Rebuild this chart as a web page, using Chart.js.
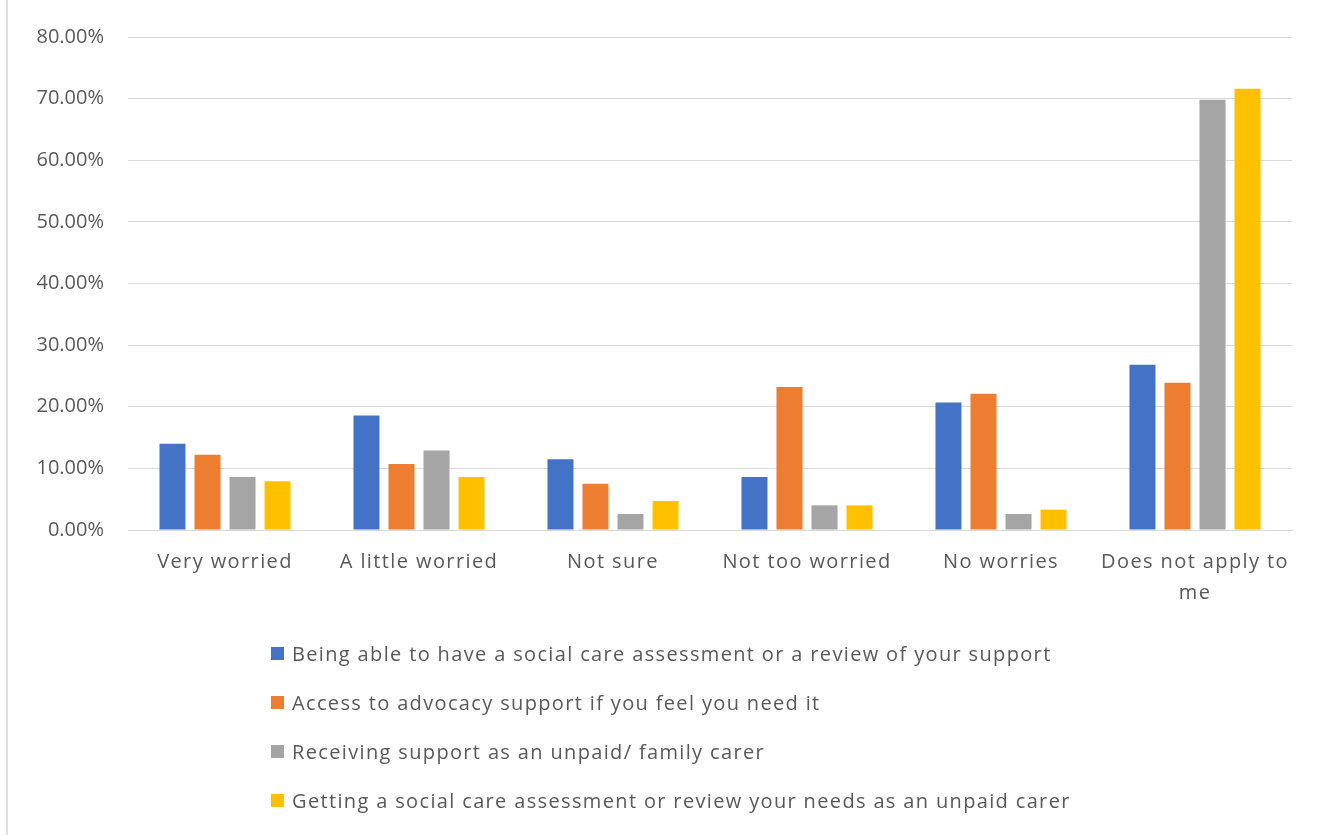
<!DOCTYPE html>
<html>
<head>
<meta charset="utf-8">
<title>Social care worries</title>
<script src="https://cdn.jsdelivr.net/npm/chart.js@4/dist/chart.umd.min.js"></script>
<style>
    html, body {
        margin: 0;
        padding: 0;
        background: #fff;
    }
    #wrap {
        position: relative;
        width: 1320px;
        height: 835px;
        overflow: hidden;
    }
    #edge {
        position: absolute;
        left: 6px;
        top: 0;
        width: 2px;
        height: 835px;
        background: #e0e0e0;
    }
    #legend {
        position: absolute;
        left: 271px;
        top: 629px;
        font-family: "Open Sans", sans-serif;
        font-size: 20px;
        letter-spacing: 1.35px;
        color: #595959;
    }
    #legend .item {
        height: 49px;
        display: flex;
        align-items: center;
    }
    #legend .box {
        width: 13px;
        height: 13px;
        margin-right: 8px;
        flex: none;
    }
</style>
</head>
<body>
<div id="wrap">
    <canvas id="worryChart" width="1320" height="835"></canvas>
    <div id="edge"></div>
    <div id="legend"></div>
</div>
<script>
const categories = [
    'Very worried',
    'A little worried',
    'Not sure',
    'Not too worried',
    'No worries',
    ['Does not apply to', 'me'],
];

const seriesNames = [
    'Being able to have a social care assessment or a review of your support',
    'Access to advocacy support if you feel you need it',
    'Receiving support as an unpaid/ family carer',
    'Getting a social care assessment or review your needs as an unpaid carer',
];

// percent of respondents
const assessmentReview = [14.0, 18.6, 11.5, 8.6, 20.7, 26.8];
const advocacySupport = [12.2, 10.7, 7.5, 23.2, 22.1, 23.9];
const carerSupport = [8.6, 12.9, 2.6, 4.0, 2.6, 69.8];
const carerAssessment = [7.9, 8.6, 4.7, 4.0, 3.3, 71.6];

const yTicks = [0, 10, 20, 30, 40, 50, 60, 70, 80];

const colors = ['#4472C4', '#ED7D31', '#A5A5A5', '#FFC000'];
const textColor = '#595959';
const gridColor = '#d9d9d9';

const seriesValues = [assessmentReview, advocacySupport, carerSupport, carerAssessment];

const ctx = document.getElementById('worryChart');
const chart = new Chart(ctx, {
    type: 'bar',
    data: {
        labels: categories,
        datasets: seriesValues.map((values, i) => ({
            label: seriesNames[i],
            data: values,
            backgroundColor: colors[i],
            categoryPercentage: 0.722,
            barPercentage: 0.743,
        })),
    },
    options: {
        responsive: false,
        animation: false,
        devicePixelRatio: 1,
        layout: {
            padding: { top: 37, right: 28, bottom: 0, left: 0 },
        },
        plugins: {
            legend: { display: false },
            tooltip: { enabled: false },
        },
        scales: {
            x: {
                grid: { display: false, drawTicks: false },
                border: { color: gridColor, width: 1 },
                ticks: {
                    color: textColor,
                    padding: 17,
                    maxRotation: 0,
                    autoSkip: false,
                    font: { family: 'Open Sans', size: 20, lineHeight: 1.55 },
                },
                afterFit: (scale) => {
                    scale.height = 305;
                },
            },
            y: {
                min: 0,
                max: 80,
                afterBuildTicks: (scale) => {
                    scale.ticks = yTicks.map((v) => ({ value: v }));
                },
                grid: { color: gridColor, lineWidth: 1, drawTicks: false },
                border: { display: false },
                ticks: {
                    color: textColor,
                    padding: 24,
                    font: { family: 'Open Sans', size: 20 },
                    callback: (v) => v.toFixed(2) + '%',
                },
                afterFit: (scale) => {
                    scale.width = 128;
                },
            },
        },
    },
});

// category labels are drawn a little more spread out than the value labels
const xScale = chart.scales.x;
const drawXLabels = xScale.drawLabels.bind(xScale);
xScale.drawLabels = (area) => {
    chart.ctx.save();
    chart.ctx.letterSpacing = '1.4px';
    drawXLabels(area);
    chart.ctx.restore();
};
chart.draw();

// legend as a plain left-aligned list under the chart
const legendEl = document.getElementById('legend');
chart.data.datasets.forEach((ds) => {
    const item = document.createElement('div');
    item.className = 'item';
    const box = document.createElement('span');
    box.className = 'box';
    box.style.background = ds.backgroundColor;
    const label = document.createElement('span');
    label.textContent = ds.label;
    item.appendChild(box);
    item.appendChild(label);
    legendEl.appendChild(item);
});
</script>
</body>
</html>
